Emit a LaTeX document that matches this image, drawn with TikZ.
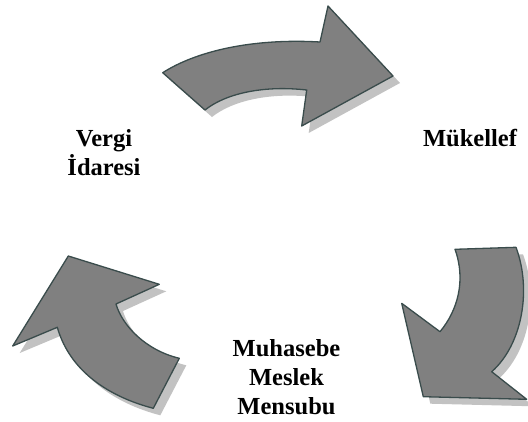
\documentclass[tikz,border=0pt]{standalone}
\usepackage{fontspec}
\setmainfont{Liberation Serif}
\definecolor{arrfill}{HTML}{808080}
\definecolor{arredge}{HTML}{3A4C4C}
\definecolor{shade}{HTML}{C2C2C2}
\tikzset{
  arrowbody/.style={fill=arrfill, draw=arredge, line width=1.3pt, line join=round},
  arrowshade/.style={fill=shade, draw=none},
  lbl/.style={font=\fontsize{24.5}{28.8}\selectfont\bfseries, align=center, inner sep=0pt}
}
\begin{document}
\begin{tikzpicture}[x=1pt,y=-1pt]
\useasboundingbox (0,0) rectangle (528,421);
\def\toparrow{(162.7,72.7) .. controls (195,52) and (250,38) .. (320,42) -- (328,6) -- (393,76) -- (301.7,126) -- (306.7,90) .. controls (262,85) and (225,94) .. (205,110) -- cycle}
\def\rightarrow{(455,249.3) -- (516,247.3) .. controls (532,290) and (522,345) .. (491.7,371.7) -- (526.7,399.3) -- (423.3,396.7) -- (401.7,303.3) -- (440,331.7) .. controls (458,310) and (466,280) .. (455,249.3) -- cycle}
\def\leftarrow{(68.3,256) -- (159.3,284.3) -- (116,304) .. controls (122,325) and (145,350) .. (179.3,358.3) -- (153.3,408.3) .. controls (110,397) and (70,372) .. (57.3,327.3) -- (12.7,346) -- cycle}
\begin{scope}[shift={(7,7)}]
  \path[arrowshade] \toparrow;
  \path[arrowshade] \rightarrow;
  \path[arrowshade] \leftarrow;
\end{scope}
\path[arrowbody] \toparrow;
\path[arrowbody] \rightarrow;
\path[arrowbody] \leftarrow;
\node[lbl, anchor=base] (vergi) at (104,175.5) {Vergi\\İdaresi};
\node[lbl, anchor=base] (mukellef) at (470,146.7) {Mükellef};
\node[lbl, anchor=base] (muhasebe) at (286.5,414.5) {Muhasebe\\Meslek\\Mensubu};
\end{tikzpicture}
\end{document}
